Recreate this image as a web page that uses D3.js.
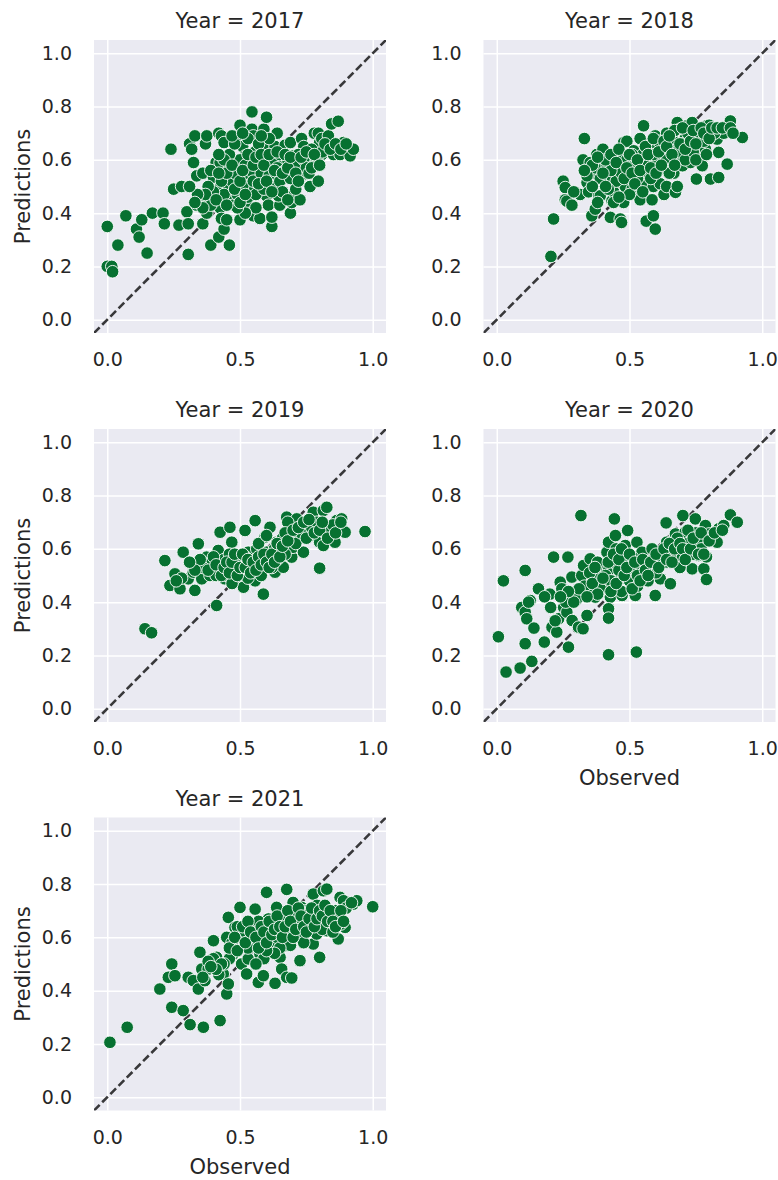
<!DOCTYPE html>
<html>
<head>
<meta charset="utf-8">
<script src="https://cdn.jsdelivr.net/npm/d3@7"></script>
<style>
  body { margin: 0; background: #fff; }
  svg { display: block; font-family: "DejaVu Sans", sans-serif; }
</style>
</head>
<body>
<svg id="chart" width="778" height="1180"></svg>
<script>
const years = [2017, 2018, 2019, 2020, 2021];
const xTicks = [0, 0.5, 1.0];
const yTicks = [0, 0.2, 0.4, 0.6, 0.8, 1.0];

// [observed, predicted] pairs
const pts2017 = [
  [0.0,0.35],[0.0,0.20],[0.017,0.20],[0.02,0.18],[0.04,0.28],[0.07,0.39],[0.11,0.34],[0.12,0.31],
  [0.13,0.375],[0.15,0.25],[0.17,0.40],[0.21,0.40],[0.215,0.36],[0.24,0.64],[0.27,0.355],[0.25,0.49],
  [0.28,0.50],[0.305,0.245],[0.30,0.405],[0.305,0.36],[0.31,0.66],[0.33,0.69],[0.318,0.64],[0.325,0.59],
  [0.337,0.54],[0.35,0.45],[0.337,0.43],[0.36,0.36],[0.37,0.66],[0.375,0.69],[0.36,0.55],[0.38,0.45],
  [0.375,0.40],[0.39,0.28],[0.40,0.535],[0.41,0.59],[0.425,0.59],[0.42,0.31],[0.44,0.34],[0.42,0.70],
  [0.43,0.69],[0.44,0.665],[0.425,0.42],[0.43,0.38],[0.42,0.49],[0.45,0.375],[0.46,0.57],[0.46,0.28],
  [0.456,0.49],[0.46,0.45],[0.475,0.43],[0.49,0.69],[0.50,0.73],[0.50,0.375],[0.51,0.65],[0.52,0.615],
  [0.525,0.55],[0.525,0.50],[0.53,0.43],[0.54,0.48],[0.54,0.40],[0.55,0.39],[0.545,0.78],[0.545,0.715],
  [0.55,0.69],[0.557,0.63],[0.563,0.60],[0.57,0.55],[0.575,0.53],[0.575,0.38],[0.59,0.715],[0.60,0.76],
  [0.594,0.65],[0.60,0.615],[0.60,0.58],[0.607,0.51],[0.60,0.465],[0.607,0.43],[0.62,0.35],[0.62,0.385],
  [0.625,0.565],[0.632,0.65],[0.64,0.70],[0.65,0.43],[0.645,0.465],[0.66,0.63],[0.663,0.59],[0.663,0.53],
  [0.67,0.655],[0.69,0.665],[0.69,0.40],[0.695,0.44],[0.70,0.465],[0.70,0.615],[0.707,0.58],[0.713,0.515],
  [0.726,0.45],[0.732,0.68],[0.74,0.65],[0.745,0.55],[0.758,0.615],[0.764,0.50],[0.776,0.59],[0.78,0.70],
  [0.795,0.70],[0.795,0.52],[0.80,0.665],[0.808,0.68],[0.808,0.62],[0.833,0.69],[0.845,0.735],[0.87,0.745],
  [0.852,0.62],[0.877,0.62],[0.883,0.655],[0.89,0.665],[0.915,0.615],[0.927,0.64],
  [0.47,0.52],[0.48,0.55],[0.49,0.47],[0.50,0.60],[0.51,0.50],[0.52,0.58],[0.53,0.46],[0.54,0.56],
  [0.55,0.52],[0.56,0.47],[0.57,0.59],[0.58,0.55],[0.59,0.49],[0.61,0.54],[0.62,0.60],[0.63,0.50],
  [0.64,0.57],[0.65,0.52],[0.66,0.48],[0.67,0.56],[0.68,0.60],[0.69,0.53],[0.70,0.57],[0.71,0.49],
  [0.72,0.58],[0.73,0.54],[0.74,0.60],[0.75,0.57],[0.76,0.55],[0.77,0.64],[0.79,0.60],[0.81,0.63],
  [0.44,0.47],[0.43,0.52],[0.40,0.48],[0.39,0.43],[0.38,0.50],[0.36,0.42],[0.45,0.55],[0.46,0.62],
  [0.48,0.66],[0.53,0.68],[0.57,0.66],[0.61,0.68],[0.65,0.62],[0.68,0.45],[0.72,0.62],[0.56,0.42],
  [0.52,0.40],[0.49,0.42],
  [0.37,0.47],[0.39,0.56],[0.41,0.45],[0.42,0.55],[0.44,0.60],[0.45,0.43],[0.47,0.58],[0.48,0.49],
  [0.50,0.52],[0.50,0.44],[0.51,0.56],[0.52,0.47],[0.53,0.62],[0.55,0.58],[0.56,0.61],[0.57,0.51],
  [0.58,0.62],[0.59,0.58],[0.60,0.52],[0.61,0.62],[0.62,0.48],[0.63,0.56],[0.64,0.63],[0.66,0.55],
  [0.67,0.62],[0.68,0.57],[0.69,0.61],[0.71,0.55],[0.72,0.52],[0.73,0.61],[0.75,0.63],[0.77,0.57],
  [0.78,0.62],[0.80,0.58],[0.82,0.66],[0.84,0.64],[0.86,0.66],[0.88,0.64],[0.90,0.66],[0.34,0.47],
  [0.33,0.44],[0.31,0.50],[0.42,0.62],[0.47,0.69],[0.51,0.70],[0.58,0.69]
];

const pts2018 = [
  [0.204,0.2375],[0.214,0.378],[0.25,0.52],[0.258,0.496],[0.258,0.45],[0.264,0.445],[0.283,0.43],[0.314,0.47],
  [0.33,0.68],[0.325,0.60],[0.34,0.515],[0.346,0.48],[0.352,0.59],[0.358,0.55],[0.358,0.39],[0.371,0.415],
  [0.377,0.62],[0.40,0.64],[0.384,0.465],[0.39,0.465],[0.40,0.565],[0.415,0.54],[0.42,0.52],[0.428,0.384],
  [0.434,0.446],[0.44,0.48],[0.434,0.61],[0.44,0.58],[0.46,0.57],[0.453,0.55],[0.465,0.378],[0.47,0.365],
  [0.478,0.665],[0.49,0.67],[0.478,0.615],[0.478,0.44],[0.484,0.50],[0.503,0.54],[0.51,0.49],[0.516,0.634],
  [0.528,0.50],[0.535,0.465],[0.54,0.45],[0.553,0.728],[0.547,0.60],[0.553,0.578],[0.56,0.51],[0.566,0.55],
  [0.563,0.37],[0.59,0.39],[0.597,0.34],[0.585,0.45],[0.59,0.50],[0.58,0.665],[0.597,0.69],[0.604,0.65],
  [0.61,0.56],[0.616,0.51],[0.63,0.47],[0.64,0.50],[0.64,0.70],[0.654,0.634],[0.654,0.60],[0.667,0.66],
  [0.667,0.55],[0.673,0.478],[0.68,0.50],[0.68,0.74],[0.69,0.715],[0.69,0.615],[0.70,0.578],[0.71,0.68],
  [0.717,0.728],[0.723,0.64],[0.73,0.59],[0.736,0.74],[0.748,0.678],[0.752,0.528],[0.767,0.615],[0.774,0.578],
  [0.786,0.64],[0.79,0.728],[0.805,0.528],[0.83,0.678],[0.836,0.628],[0.836,0.534],[0.868,0.584],[0.874,0.728],
  [0.88,0.746],[0.887,0.703],[0.925,0.684],[0.855,0.70],[0.824,0.715],
  [0.45,0.52],[0.47,0.55],[0.49,0.60],[0.50,0.47],[0.52,0.58],[0.53,0.53],[0.55,0.62],[0.57,0.58],
  [0.58,0.53],[0.60,0.60],[0.62,0.64],[0.63,0.57],[0.65,0.55],[0.66,0.68],[0.68,0.63],[0.70,0.66],
  [0.71,0.60],[0.72,0.70],[0.74,0.63],[0.76,0.70],[0.78,0.67],[0.80,0.73],[0.82,0.70],[0.43,0.56],
  [0.41,0.60],[0.39,0.53],[0.37,0.57],[0.36,0.50],[0.38,0.44],[0.42,0.49],[0.44,0.44],[0.46,0.46],
  [0.51,0.62],[0.54,0.68],[0.59,0.62],[0.61,0.67],[0.64,0.60],[0.67,0.71],[0.75,0.60],[0.79,0.62],
  [0.36,0.58],[0.38,0.61],[0.40,0.55],[0.41,0.50],[0.43,0.62],[0.45,0.59],[0.46,0.64],[0.48,0.53],
  [0.49,0.57],[0.50,0.62],[0.51,0.55],[0.52,0.51],[0.53,0.60],[0.54,0.56],[0.55,0.48],[0.56,0.65],
  [0.57,0.62],[0.58,0.57],[0.59,0.68],[0.60,0.55],[0.61,0.63],[0.62,0.58],[0.63,0.67],[0.64,0.65],
  [0.65,0.69],[0.66,0.62],[0.67,0.58],[0.69,0.66],[0.70,0.72],[0.71,0.64],[0.73,0.67],[0.74,0.71],
  [0.75,0.66],[0.77,0.72],[0.78,0.70],[0.80,0.68],[0.81,0.72],[0.83,0.72],[0.85,0.72],[0.88,0.72],
  [0.89,0.70],[0.34,0.54],[0.33,0.56],[0.29,0.48]
];

const pts2019 = [
  [0.142,0.30],[0.167,0.285],[0.217,0.556],[0.236,0.4625],[0.255,0.506],[0.274,0.45],[0.286,0.5875],[0.305,0.4875],
  [0.324,0.5125],[0.33,0.444],[0.343,0.619],[0.349,0.544],[0.356,0.4875],[0.374,0.569],[0.387,0.50],[0.40,0.5375],
  [0.412,0.3875],[0.418,0.594],[0.425,0.6625],[0.437,0.525],[0.443,0.4875],[0.462,0.681],[0.469,0.625],[0.475,0.5375],
  [0.481,0.4875],[0.487,0.5625],[0.494,0.525],[0.513,0.456],[0.519,0.669],[0.525,0.55],[0.531,0.5875],[0.557,0.706],
  [0.557,0.48],[0.563,0.60],[0.569,0.5375],[0.588,0.43],[0.594,0.644],[0.60,0.5875],[0.607,0.5375],[0.613,0.681],
  [0.626,0.5875],[0.632,0.5125],[0.638,0.625],[0.651,0.55],[0.663,0.531],[0.676,0.719],[0.682,0.669],[0.688,0.619],
  [0.695,0.569],[0.70,0.606],[0.714,0.7125],[0.72,0.656],[0.739,0.5875],[0.758,0.6875],[0.776,0.7375],[0.783,0.65],
  [0.80,0.625],[0.80,0.5275],[0.808,0.694],[0.814,0.744],[0.827,0.756],[0.814,0.6125],[0.839,0.6625],[0.858,0.625],
  [0.864,0.706],[0.883,0.7125],[0.889,0.669],[0.896,0.6625],[0.971,0.665],
  [0.42,0.53],[0.44,0.56],[0.45,0.50],[0.46,0.58],[0.48,0.52],[0.50,0.55],[0.51,0.51],[0.52,0.57],
  [0.53,0.49],[0.54,0.54],[0.55,0.52],[0.56,0.56],[0.58,0.50],[0.59,0.55],[0.61,0.57],[0.62,0.53],
  [0.63,0.60],[0.64,0.56],[0.65,0.60],[0.66,0.64],[0.67,0.58],[0.69,0.65],[0.71,0.62],[0.73,0.66],
  [0.75,0.64],[0.77,0.68],[0.79,0.70],[0.82,0.66],[0.85,0.69],[0.39,0.55],[0.41,0.50],[0.36,0.53],
  [0.47,0.47],[0.57,0.62],[0.60,0.65],[0.68,0.70],
  [0.38,0.52],[0.40,0.57],[0.41,0.54],[0.43,0.50],[0.44,0.53],[0.45,0.55],[0.46,0.51],[0.47,0.55],
  [0.48,0.58],[0.49,0.50],[0.50,0.53],[0.51,0.58],[0.52,0.53],[0.53,0.56],[0.54,0.51],[0.55,0.55],
  [0.56,0.52],[0.57,0.57],[0.58,0.54],[0.59,0.58],[0.60,0.55],[0.61,0.53],[0.62,0.58],[0.63,0.55],
  [0.64,0.62],[0.65,0.57],[0.66,0.61],[0.67,0.66],[0.68,0.63],[0.70,0.67],[0.72,0.68],[0.74,0.70],
  [0.76,0.71],[0.78,0.66],[0.80,0.67],[0.81,0.70],[0.83,0.64],[0.86,0.66],[0.88,0.70],[0.35,0.56],
  [0.33,0.52],[0.31,0.55],[0.28,0.49],[0.26,0.48]
];

const pts2020 = [
  [0.006,0.27],[0.025,0.48],[0.035,0.1375],[0.088,0.1525],[0.094,0.38],[0.107,0.3625],[0.113,0.3375],[0.107,0.519],
  [0.107,0.244],[0.126,0.406],[0.132,0.1775],[0.14,0.3025],[0.157,0.45],[0.179,0.25],[0.20,0.43],[0.203,0.38],
  [0.214,0.569],[0.208,0.306],[0.226,0.2875],[0.233,0.3375],[0.239,0.475],[0.245,0.45],[0.252,0.38],[0.268,0.569],
  [0.27,0.231],[0.264,0.3625],[0.283,0.494],[0.284,0.331],[0.296,0.4375],[0.308,0.306],[0.325,0.30],[0.317,0.725],
  [0.32,0.50],[0.32,0.425],[0.327,0.5375],[0.34,0.35],[0.352,0.5625],[0.358,0.45],[0.371,0.419],[0.384,0.519],
  [0.387,0.475],[0.40,0.5375],[0.415,0.5875],[0.421,0.625],[0.421,0.519],[0.428,0.4625],[0.428,0.419],[0.421,0.375],
  [0.421,0.34],[0.421,0.2025],[0.443,0.7125],[0.447,0.65],[0.453,0.556],[0.465,0.4875],[0.472,0.425],[0.484,0.6125],
  [0.493,0.669],[0.503,0.519],[0.516,0.4625],[0.522,0.425],[0.526,0.2125],[0.528,0.625],[0.54,0.5375],[0.547,0.5875],
  [0.566,0.525],[0.585,0.60],[0.597,0.425],[0.604,0.5375],[0.616,0.4875],[0.635,0.55],[0.64,0.625],[0.638,0.6975],
  [0.654,0.469],[0.673,0.656],[0.68,0.6125],[0.686,0.556],[0.701,0.725],[0.71,0.663],[0.717,0.606],[0.723,0.575],
  [0.736,0.525],[0.748,0.7125],[0.755,0.631],[0.761,0.575],[0.78,0.525],[0.79,0.485],[0.786,0.6875],[0.80,0.656],
  [0.83,0.625],[0.836,0.675],[0.855,0.6875],[0.88,0.7275],[0.906,0.70],
  [0.44,0.55],[0.45,0.60],[0.46,0.52],[0.48,0.56],[0.50,0.48],[0.51,0.57],[0.52,0.52],[0.53,0.46],
  [0.55,0.50],[0.56,0.55],[0.57,0.48],[0.59,0.56],[0.60,0.51],[0.62,0.57],[0.66,0.58],[0.68,0.64],
  [0.70,0.57],[0.72,0.62],[0.74,0.58],[0.75,0.66],[0.77,0.60],[0.79,0.57],[0.69,0.53],[0.41,0.50],
  [0.39,0.45],[0.37,0.49],[0.35,0.51],[0.33,0.46],[0.30,0.41],[0.26,0.40],[0.47,0.44],[0.43,0.48],
  [0.38,0.55],
  [0.36,0.47],[0.37,0.53],[0.38,0.43],[0.40,0.49],[0.42,0.55],[0.43,0.44],[0.44,0.58],[0.45,0.47],
  [0.46,0.56],[0.47,0.60],[0.48,0.50],[0.49,0.53],[0.50,0.58],[0.51,0.45],[0.52,0.55],[0.53,0.50],
  [0.54,0.48],[0.55,0.56],[0.56,0.52],[0.57,0.50],[0.58,0.55],[0.60,0.58],[0.61,0.53],[0.63,0.60],
  [0.64,0.56],[0.65,0.62],[0.66,0.55],[0.67,0.60],[0.69,0.62],[0.70,0.60],[0.71,0.56],[0.72,0.67],
  [0.73,0.60],[0.74,0.64],[0.76,0.58],[0.77,0.66],[0.78,0.58],[0.80,0.63],[0.82,0.66],[0.85,0.67],
  [0.31,0.45],[0.29,0.40],[0.27,0.44],[0.22,0.33],[0.24,0.42],[0.34,0.42],[0.18,0.42],[0.12,0.40]
];

const pts2021 = [
  [0.01,0.206],[0.075,0.2625],[0.198,0.406],[0.23,0.45],[0.243,0.50],[0.255,0.456],[0.243,0.3375],[0.286,0.325],
  [0.305,0.45],[0.324,0.4375],[0.312,0.2725],[0.343,0.406],[0.349,0.544],[0.356,0.481],[0.362,0.2625],[0.368,0.4375],
  [0.38,0.481],[0.40,0.5875],[0.412,0.525],[0.418,0.494],[0.425,0.2875],[0.437,0.4625],[0.45,0.3875],[0.456,0.425],
  [0.45,0.60],[0.456,0.675],[0.475,0.5375],[0.481,0.6375],[0.50,0.7125],[0.50,0.60],[0.506,0.50],[0.525,0.4625],
  [0.531,0.519],[0.538,0.65],[0.557,0.706],[0.563,0.594],[0.569,0.556],[0.569,0.431],[0.575,0.5375],[0.588,0.456],
  [0.60,0.769],[0.60,0.6375],[0.607,0.669],[0.626,0.569],[0.632,0.60],[0.638,0.7125],[0.632,0.4275],[0.651,0.525],
  [0.657,0.625],[0.657,0.481],[0.67,0.569],[0.676,0.78],[0.676,0.45],[0.695,0.4475],[0.695,0.669],[0.70,0.731],
  [0.714,0.60],[0.726,0.5125],[0.732,0.7125],[0.745,0.669],[0.758,0.6375],[0.764,0.69],[0.776,0.7625],[0.776,0.575],
  [0.789,0.6125],[0.80,0.525],[0.814,0.775],[0.827,0.781],[0.814,0.7125],[0.827,0.625],[0.858,0.6875],[0.87,0.594],
  [0.877,0.75],[0.89,0.7375],[0.896,0.6375],[0.927,0.725],[0.94,0.7375],[1.0,0.715],
  [0.47,0.58],[0.49,0.64],[0.52,0.62],[0.54,0.58],[0.55,0.64],[0.57,0.66],[0.58,0.60],[0.59,0.52],
  [0.61,0.58],[0.62,0.65],[0.64,0.60],[0.66,0.66],[0.68,0.62],[0.69,0.57],[0.70,0.64],[0.71,0.68],
  [0.72,0.60],[0.73,0.65],[0.74,0.58],[0.75,0.70],[0.77,0.65],[0.78,0.69],[0.79,0.72],[0.80,0.66],
  [0.81,0.63],[0.82,0.68],[0.84,0.66],[0.85,0.62],[0.86,0.70],[0.88,0.65],[0.87,0.68],[0.90,0.71],
  [0.65,0.56],[0.63,0.54],[0.60,0.55],[0.56,0.50],[0.53,0.56],[0.46,0.52],[0.44,0.50],[0.42,0.46],
  [0.40,0.52],[0.38,0.51],
  [0.46,0.56],[0.48,0.60],[0.49,0.55],[0.51,0.64],[0.52,0.58],[0.53,0.66],[0.54,0.62],[0.56,0.60],
  [0.57,0.56],[0.58,0.64],[0.59,0.62],[0.60,0.58],[0.61,0.66],[0.62,0.61],[0.63,0.63],[0.64,0.68],
  [0.65,0.64],[0.66,0.60],[0.67,0.64],[0.68,0.70],[0.69,0.66],[0.70,0.60],[0.71,0.63],[0.72,0.71],
  [0.73,0.68],[0.74,0.64],[0.75,0.62],[0.76,0.67],[0.77,0.71],[0.78,0.64],[0.79,0.67],[0.80,0.70],
  [0.81,0.68],[0.82,0.72],[0.83,0.66],[0.84,0.70],[0.85,0.66],[0.86,0.64],[0.88,0.70],[0.89,0.66],
  [0.92,0.73],[0.43,0.50],[0.41,0.48],[0.39,0.49],[0.36,0.45]
];

const pointsByYear = [pts2017, pts2018, pts2019, pts2020, pts2021];

const W = 292, H = 293;
const colX = [94, 483.5];
const rowY = [40, 429, 817.5];
const textColor = "#262626";

const svg = d3.select("#chart");

const x = d3.scaleLinear().domain([-0.05, 1.05]).range([0, W]);
const y = d3.scaleLinear().domain([-0.05, 1.05]).range([H, 0]);

years.forEach((yr, i) => {
  const col = i % 2, row = Math.floor(i / 2);
  const g = svg.append("g").attr("transform", `translate(${colX[col]},${rowY[row]})`);

  g.append("rect").attr("width", W).attr("height", H).attr("fill", "#eaeaf2");

  // x axis + vertical grid
  const xa = g.append("g")
    .attr("transform", `translate(0,${H})`)
    .call(d3.axisBottom(x).tickValues(xTicks).tickSize(-H).tickPadding(20).tickFormat(d3.format(".1f")));
  // y axis + horizontal grid
  const ya = g.append("g")
    .call(d3.axisLeft(y).tickValues(yTicks).tickSize(-W).tickPadding(22).tickFormat(d3.format(".1f")));

  [xa, ya].forEach(a => {
    a.select(".domain").remove();
    a.selectAll(".tick line").attr("stroke", "#fff").attr("stroke-width", 1.5);
    a.selectAll(".tick text").attr("fill", textColor).style("font-size", "19px")
      .style("font-family", "DejaVu Sans, sans-serif");
  });

  // identity line
  const clipId = "clip" + i;
  g.append("clipPath").attr("id", clipId).append("rect").attr("width", W).attr("height", H);
  g.append("line")
    .attr("clip-path", `url(#${clipId})`)
    .attr("x1", x(-0.05)).attr("y1", y(-0.05))
    .attr("x2", x(1.05)).attr("y2", y(1.05))
    .attr("stroke", "#38383a").attr("stroke-width", 2.6)
    .attr("stroke-dasharray", "8,3.6");

  g.append("g").selectAll("circle")
    .data(pointsByYear[i])
    .join("circle")
    .attr("cx", d => x(d[0]))
    .attr("cy", d => y(d[1]))
    .attr("r", 6.3)
    .attr("fill", "#077131")
    .attr("stroke", "#fff")
    .attr("stroke-width", 0.9);

  g.append("text")
    .attr("x", W / 2).attr("y", -12)
    .attr("text-anchor", "middle")
    .attr("fill", textColor).style("font-size", "21px")
    .text(`Year = ${yr}`);

  if (col === 0) {
    g.append("text")
      .attr("transform", `translate(${23 - colX[0]},${H / 2}) rotate(-90)`)
      .attr("text-anchor", "middle").attr("dy", "0.35em")
      .attr("fill", textColor).style("font-size", "21px")
      .text("Predictions");
  }
  if (i >= years.length - 2) {
    g.append("text")
      .attr("x", W / 2).attr("y", H + 63)
      .attr("text-anchor", "middle")
      .attr("fill", textColor).style("font-size", "21px")
      .text("Observed");
  }
});
</script>
</body>
</html>
